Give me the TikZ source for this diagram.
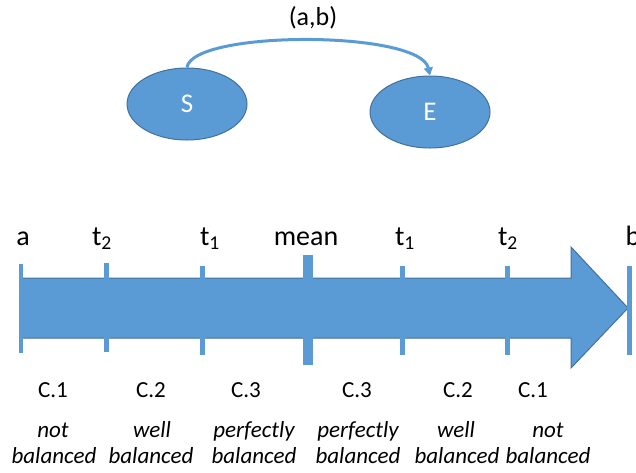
\documentclass[tikz,border=0pt]{standalone}
\usepackage{fontspec}
\setmainfont{Carlito}
\usetikzlibrary{shapes.geometric,arrows.meta}
\definecolor{fillblue}{HTML}{5B9BD5}
\definecolor{edgeblue}{HTML}{41719C}
\tikzset{
  state/.style={ellipse,draw=edgeblue,line width=1pt,fill=fillblue,text=white,
    minimum width=120pt,minimum height=72pt,inner sep=0pt,font=\fontsize{27}{27}\selectfont},
  axislabel/.style={anchor=base,inner sep=0pt,font=\fontsize{28}{28}\selectfont},
  caselabel/.style={anchor=base,inner sep=0pt,font=\fontsize{23}{23}\selectfont},
  desclabel/.style={anchor=base,inner sep=0pt,font=\fontsize{23}{23}\selectfont\itshape},
  tickmark/.style={fill=fillblue}
}

\begin{document}
\begin{tikzpicture}[x=1pt,y=-1pt]
\useasboundingbox (0,0) rectangle (636,472);

\node[state] (S) at (187,104) {S};
\node[state] (E) at (430,112) {E};
\node[font=\fontsize{26}{26}\selectfont] (ab) at (313,18) {(a,b)};
\draw[fillblue,line width=3pt,-{Triangle[length=8pt,width=9pt]}]
  (S.north) .. controls (192,30) and (420,30) .. (E.north);

% the axis
\draw[fill=fillblue,draw=edgeblue,line width=1pt] (21,278) -- (571,278) -- (571,247)
  -- (628,308) -- (571,368) -- (571,338) -- (21,338) -- cycle;

\fill[tickmark] (19,264) rectangle (23,353);
\fill[tickmark] (104,263) rectangle (109,352);
\fill[tickmark] (200,266) rectangle (205,355);
\fill[tickmark] (303,255) rectangle (313,365);
\fill[tickmark] (400,266) rectangle (405,355);
\fill[tickmark] (505,266) rectangle (510,355);
\fill[tickmark] (627,266) rectangle (632,355);

\node[axislabel] (a) at (23,245) {a};
\node[axislabel] (t2l) at (102,245) {t\textsubscript{2}};
\node[axislabel] (t1l) at (210,245) {t\textsubscript{1}};
\node[axislabel] (mean) at (306,245) {mean};
\node[axislabel] (t1r) at (405,245) {t\textsubscript{1}};
\node[axislabel] (t2r) at (508,245) {t\textsubscript{2}};
\node[axislabel] (b) at (633,245) {b};

% cases
\node[caselabel] (c1l) at (53,397) {C.1};
\node[caselabel] (c2l) at (151,397) {C.2};
\node[caselabel] (c3l) at (246,397) {C.3};
\node[caselabel] (c3r) at (357,397) {C.3};
\node[caselabel] (c2r) at (458,397) {C.2};
\node[caselabel] (c1r) at (533,397) {C.1};

\node[desclabel] (d1l) at (53,437) {not};
\node[desclabel] (d2l) at (152,437) {well};
\node[desclabel] (d3l) at (254,437) {perfectly};
\node[desclabel] (d3r) at (358,437) {perfectly};
\node[desclabel] (d2r) at (456,437) {well};
\node[desclabel] (d1r) at (548,437) {not};

\node[desclabel] (b1l) at (54,463) {balanced};
\node[desclabel] (b2l) at (151,463) {balanced};
\node[desclabel] (b3l) at (254,463) {balanced};
\node[desclabel] (b3r) at (358,463) {balanced};
\node[desclabel] (b2r) at (457,463) {balanced};
\node[desclabel] (b1r) at (548,463) {balanced};
\end{tikzpicture}
\end{document}
